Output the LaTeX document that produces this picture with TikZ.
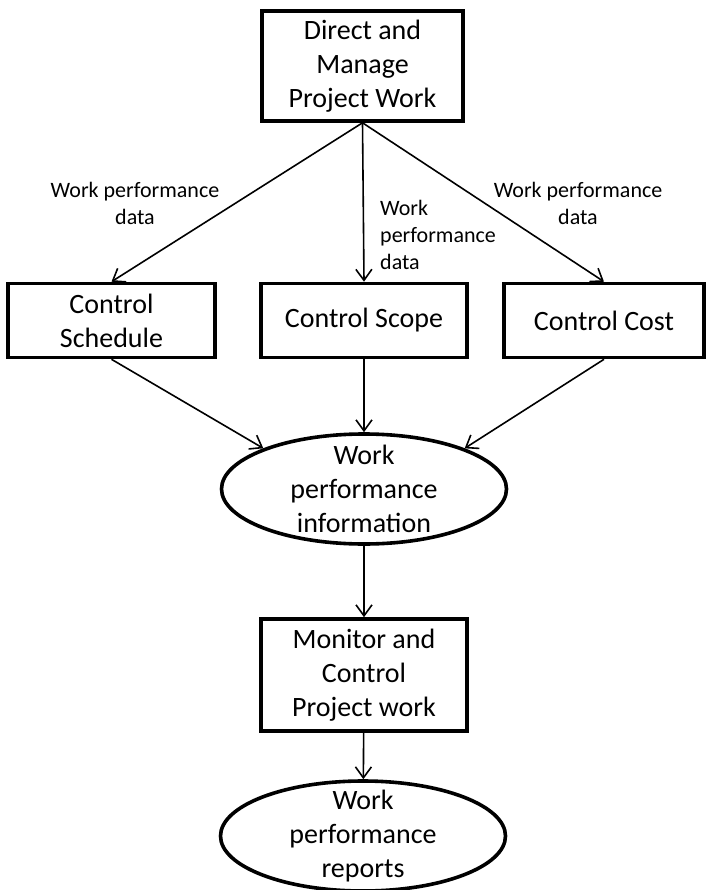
\documentclass[tikz,border=0pt]{standalone}
\usepackage{fontspec}
\setmainfont{Carlito}
\usepackage{tikz}
\usetikzlibrary{arrows.meta,positioning,shapes.geometric}
\definecolor{inkblack}{RGB}{0,0,0}
\tikzset{
  base/.style={font=\fontsize{28}{34}\selectfont, align=center, text=inkblack},
  box/.style={base, rectangle, draw=inkblack, line width=3.6pt, inner sep=2pt},
  oval/.style={base, ellipse, draw=inkblack, line width=3.6pt, inner xsep=0pt, inner ysep=-10pt, minimum width=285pt, minimum height=110pt},
  arr/.style={-{Straight Barb[length=11pt,width=16pt]}, line width=1.6pt, draw=inkblack},
  lbl/.style={font=\fontsize{22}{27}\selectfont, text=inkblack, inner sep=0pt},
}
\begin{document}
\begin{tikzpicture}[x=1pt,y=1pt]
  \useasboundingbox (0,0) rectangle (706,-890);
  \node[box,minimum width=201pt,minimum height=110pt] (dmpw) at (362.5,-66) {Direct and\\Manage\\Project Work};
  \node[box,minimum width=207pt,minimum height=74pt] (sched) at (111.5,-320.5) {Control\\Schedule};
  \node[box,minimum width=206pt,minimum height=74pt] (scope) at (364,-320.5) {Control Scope};
  \node[box,minimum width=200pt,minimum height=74pt] (cost) at (604,-320.5) {Control Cost};
  \node[oval] (info) at (364,-489) {Work\\performance\\information};
  \node[box,minimum width=206pt,minimum height=112pt] (mcpw) at (364,-675) {Monitor and\\Control\\Project work};
  \node[oval] (reports) at (363,-836) {Work\\performance\\reports};
  % labels on the data flows
  \node[lbl,align=center] (dataL) at (135,-203) {Work performance\\data};
  \node[lbl,align=left,anchor=west] (dataC) at (380,-235) {Work\\performance\\data};
  \node[lbl,align=center] (dataR) at (578,-203) {Work performance\\data};
  \foreach \b in {sched,scope,cost}{\draw[arr] (dmpw.south) -- (\b.north);}
  \draw[arr] (sched.south) -- (info.158);
  \draw[arr] (scope) -- (info);
  \draw[arr] (cost.south) -- (info.22);
  \draw[arr] (info) -- (mcpw);
  \draw[arr] (mcpw) -- (reports);
\end{tikzpicture}
\end{document}
